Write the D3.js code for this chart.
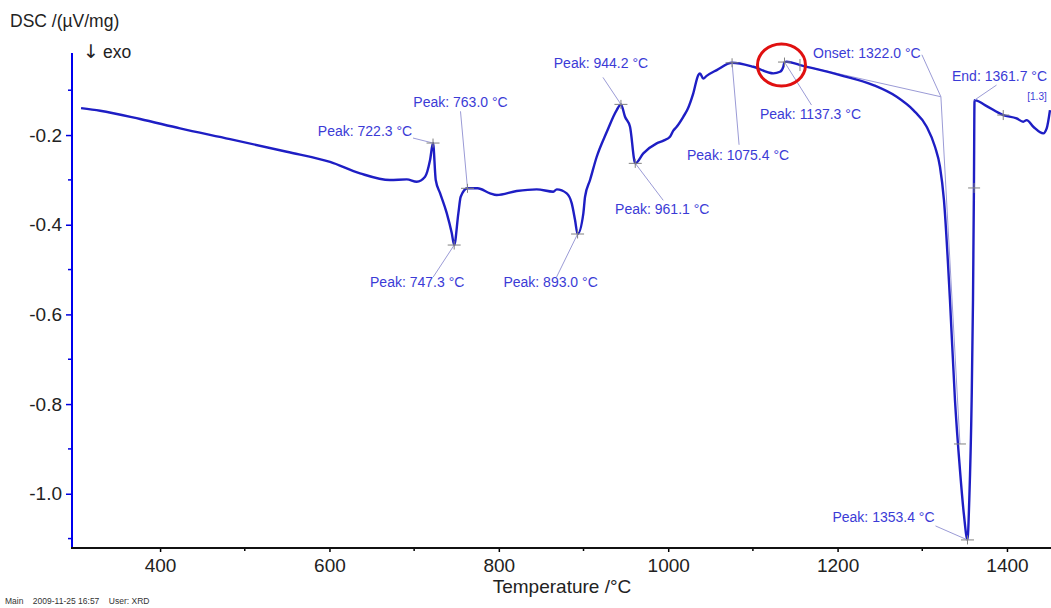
<!DOCTYPE html>
<html>
<head>
<meta charset="utf-8">
<script src="https://cdn.jsdelivr.net/npm/d3@7"></script>
<style>
  html, body { margin: 0; padding: 0; background: #ffffff; }
  svg { display: block; font-family: "Liberation Sans", Arial, sans-serif; }
</style>
</head>
<body>
<svg id="chart" width="1051" height="608"></svg>
<script>
// DSC heating curve: temperature (°C) and signal (µV/mg)
const temperature = [
  306.7, 329.2, 376.4, 423.6, 482.6, 549.6, 600.7, 636.1, 671.5, 691.3,
  703.1, 712.9, 718.8, 722.3, 725.5, 730.6, 738.5, 744.4, 747.3, 752.2,
  755.0, 763.0, 774.9, 789.6, 797.5, 821.1, 844.7, 864.3, 868.4, 880.2,
  886.1, 890.0, 893.0, 899.8, 901.8, 907.7, 915.6, 927.4, 939.2, 944.2,
  949.0, 954.9, 961.1, 970.6, 986.4, 995.0, 1002.1, 1006.0, 1010.0, 1017.8,
  1023.0, 1029.6, 1035.5, 1037.5, 1041.4, 1045.4, 1057.3, 1075.4, 1100.5, 1124.1,
  1132.0, 1135.9, 1137.3, 1139.9, 1155.6, 1202.8, 1242.2, 1269.8, 1289.4, 1305.2,
  1315.0, 1320.9, 1325.6, 1332.7, 1338.6, 1344.5, 1349.2, 1353.4, 1355.5, 1358.3,
  1359.9, 1361.0, 1361.7, 1374.0, 1395.6, 1411.4, 1419.2, 1423.2, 1431.1, 1442.9,
  1446.9, 1450.8
];
const dsc = [
  -0.140, -0.1458, -0.1643, -0.1851, -0.209, -0.2372, -0.260, -0.2854, -0.3003, -0.2988,
  -0.3041, -0.293, -0.2557, -0.2178, -0.3003, -0.3293, -0.374, -0.4185, -0.4453, -0.3746,
  -0.3376, -0.3188, -0.3188, -0.330, -0.3338, -0.3249, -0.3211, -0.3264, -0.3211, -0.330,
  -0.3523, -0.3895, -0.4207, -0.3746, -0.3376, -0.3003, -0.2484, -0.1933, -0.1443, -0.1316,
  -0.1592, -0.1815, -0.2631, -0.2408, -0.2185, -0.2120, -0.2038, -0.1900, -0.1815, -0.1592,
  -0.1420, -0.107, -0.0662, -0.0624, -0.0740, -0.068, -0.0551, -0.0388, -0.0477, -0.0624,
  -0.0589, -0.0477, -0.0372, -0.0366, -0.0439, -0.0662, -0.0885, -0.1146, -0.1443, -0.1815,
  -0.2261, -0.2707, -0.345, -0.5679, -0.7908, -0.9469, -1.0473, -1.103, -1.0138, -0.7909,
  -0.5679, -0.3182, -0.122, -0.1331, -0.1554, -0.1628, -0.1703, -0.1666, -0.1815, -0.1962,
  -0.1851, -0.1443
];

// Axis ticks
const xMajorTicks = [400, 600, 800, 1000, 1200, 1400];
const xMinorTicks = [500, 700, 900, 1100, 1300];
const yMajorTicks = [-1.0, -0.8, -0.6, -0.4, -0.2];
const yMinorTicks = [-1.1, -0.9, -0.7, -0.5, -0.3, -0.1];

// Evaluated peaks (temperature in °C)
const peakTemps = [722.3, 747.3, 763.0, 893.0, 944.2, 961.1, 1075.4, 1137.3, 1353.4];
// Label placement for each peak, in pixels relative to its marker:
// [text dx, text dy, leader start dx, leader start dy]
const peakLabelLayout = [
  [-68, -7, -20, -5],
  [-37, 42, -21, 32],
  [-7, -81, -7, -77],
  [-27, 53, -21, 43],
  [-20, -36, -18, -27],
  [27, 51, 28, 37],
  [6, 97, 7, 82],
  [26, 57, 27, 43],
  [-84, -18, -32, -14]
];

// Melting onset / end evaluation
const onsetPoint = [1322.0, -0.1146];
const onsetBaseStart = [1155.6, -0.0439];
const onsetTangentEnd = [1344.5, -0.889];
const endPoint = [1361.7, -0.122];
const endMarkers = [[1361.2, -0.318], [1395.6, -0.1554]];
const segmentTag = "[1.3]";

const svg = d3.select("#chart");
const W = 1051, H = 608;

const x = d3.scaleLinear().domain([296, 1452]).range([72, 1051]);
const y = d3.scaleLinear().domain([-1.121, -0.017]).range([548, 53]);

const labelColor = "#3b3bd6";
const leaderColor = "#9b9bd6";
const markerColor = "#808080";
const curveColor = "#1e1ec4";
const axisFont = "19px";

// Y axis (blue) with minor ticks
const yAxisG = svg.append("g").attr("transform", `translate(${x.range()[0]},0)`);
yAxisG.call(d3.axisLeft(y).tickValues(yMajorTicks).tickSize(6).tickPadding(4)
  .tickFormat(d => d.toFixed(1)));
yAxisG.call(g => g.select(".domain").remove());
yAxisG.selectAll(".tick line").attr("stroke", "#0000e0").attr("stroke-width", 1.5);
yAxisG.selectAll(".tick text").attr("fill", "#222").style("font-size", axisFont)
  .style("font-family", "'Liberation Sans', Arial, sans-serif");
yAxisG.selectAll(".minor").data(yMinorTicks).enter().append("line")
  .attr("x1", -4).attr("x2", 0).attr("y1", d => y(d)).attr("y2", d => y(d))
  .attr("stroke", "#0000e0").attr("stroke-width", 1.5);
yAxisG.append("line").attr("x1", 0).attr("x2", 0).attr("y1", 53).attr("y2", 548)
  .attr("stroke", "#0000ee").attr("stroke-width", 2);

// X axis (black) with minor ticks
const xAxisG = svg.append("g").attr("transform", `translate(0,${y.range()[0]})`);
xAxisG.call(d3.axisBottom(x).tickValues(xMajorTicks).tickSize(4).tickPadding(7)
  .tickFormat(d3.format("d")));
xAxisG.call(g => g.select(".domain").remove());
xAxisG.selectAll(".tick line").attr("stroke", "#000").attr("stroke-width", 1.5);
xAxisG.selectAll(".tick text").attr("fill", "#222").style("font-size", axisFont)
  .style("font-family", "'Liberation Sans', Arial, sans-serif");
xAxisG.selectAll(".minor").data(xMinorTicks).enter().append("line")
  .attr("x1", d => x(d)).attr("x2", d => x(d)).attr("y1", 0).attr("y2", 3)
  .attr("stroke", "#000").attr("stroke-width", 1.5);
xAxisG.append("line").attr("x1", 71).attr("x2", W).attr("y1", 0).attr("y2", 0)
  .attr("stroke", "#111").attr("stroke-width", 2);

// Axis titles and header
svg.append("text").attr("x", 10).attr("y", 27).attr("fill", "#222")
  .style("font-size", "17.5px").text("DSC /(µV/mg)");
svg.append("text").attr("x", 83).attr("y", 58).attr("fill", "#222")
  .style("font-size", "19px").style("font-family", "'DejaVu Sans', sans-serif").text("↓");
svg.append("text").attr("x", 103).attr("y", 58).attr("fill", "#222")
  .style("font-size", "17.5px").text("exo");
svg.append("text").attr("x", 562).attr("y", 593).attr("text-anchor", "middle")
  .attr("fill", "#222").style("font-size", axisFont).text("Temperature /°C");
svg.append("text").attr("x", 5).attr("y", 604).attr("fill", "#333")
  .style("font-size", "8.5px").attr("xml:space", "preserve")
  .text("Main    2009-11-25 16:57    User: XRD");

// Onset construction lines
const leaders = svg.append("g").attr("stroke", leaderColor).attr("stroke-width", 1).attr("fill", "none");
leaders.append("line")
  .attr("x1", x(onsetBaseStart[0])).attr("y1", y(onsetBaseStart[1]))
  .attr("x2", x(onsetPoint[0])).attr("y2", y(onsetPoint[1]));
leaders.append("line")
  .attr("x1", x(onsetPoint[0])).attr("y1", y(onsetPoint[1]))
  .attr("x2", x(onsetTangentEnd[0])).attr("y2", y(onsetTangentEnd[1]));

// DSC curve
const curveData = temperature.map((t, i) => [t, dsc[i]]);
const line = d3.line().x(d => x(d[0])).y(d => y(d[1])).curve(d3.curveMonotoneX);
svg.append("path").datum(curveData).attr("d", line)
  .attr("fill", "none").attr("stroke", curveColor).attr("stroke-width", 2.4)
  .attr("stroke-linejoin", "round");

// Cross marker
function cross(px, py, w, h) {
  const g = svg.append("g").attr("stroke", markerColor).attr("stroke-width", 1);
  if (w > 0) g.append("line").attr("x1", px - w / 2).attr("x2", px + w / 2).attr("y1", py).attr("y2", py);
  if (h > 0) g.append("line").attr("x1", px).attr("x2", px).attr("y1", py - h / 2).attr("y2", py + h / 2);
}

// Peak annotations
const valueAt = t => dsc[temperature.indexOf(t)];
peakTemps.forEach((t, i) => {
  const mx = x(t), my = y(valueAt(t));
  const [tdx, tdy, ldx, ldy] = peakLabelLayout[i];
  svg.append("line").attr("x1", mx + ldx).attr("y1", my + ldy).attr("x2", mx).attr("y2", my)
    .attr("stroke", leaderColor).attr("stroke-width", 1);
  cross(mx, my, 13, 9);
  svg.append("text").attr("x", mx + tdx).attr("y", my + tdy).attr("text-anchor", "middle")
    .attr("fill", labelColor).style("font-size", "14px")
    .text(`Peak: ${t.toFixed(1)} °C`);
});

// Onset label
{
  const ox = x(onsetPoint[0]), oy = y(onsetPoint[1]);
  svg.append("line").attr("x1", ox - 19).attr("y1", oy - 42).attr("x2", ox).attr("y2", oy)
    .attr("stroke", leaderColor).attr("stroke-width", 1);
  svg.append("text").attr("x", ox - 74).attr("y", oy - 39).attr("text-anchor", "middle")
    .attr("fill", labelColor).style("font-size", "14px")
    .text(`Onset: ${onsetPoint[0].toFixed(1)} °C`);
  cross(x(onsetBaseStart[0]), y(onsetBaseStart[1]), 0, 12);
  cross(x(onsetTangentEnd[0]), y(onsetTangentEnd[1]), 12, 0);
}

// End label
{
  const ex = x(endPoint[0]), ey = y(endPoint[1]);
  svg.append("line").attr("x1", ex + 22).attr("y1", ey - 15).attr("x2", ex).attr("y2", ey)
    .attr("stroke", leaderColor).attr("stroke-width", 1);
  svg.append("text").attr("x", ex + 25).attr("y", ey - 19).attr("text-anchor", "middle")
    .attr("fill", labelColor).style("font-size", "14px")
    .text(`End: ${endPoint[0].toFixed(1)} °C`);
  endMarkers.forEach(p => cross(x(p[0]), y(p[1]), 12, 10));
  svg.append("text").attr("x", 1037).attr("y", 100).attr("text-anchor", "middle")
    .attr("fill", labelColor).style("font-size", "10px").text(segmentTag);
}

// Highlight ring round the 1137.3 °C peak
svg.append("ellipse").attr("cx", x(1137.3) - 3).attr("cy", y(valueAt(1137.3)) + 3)
  .attr("rx", 24).attr("ry", 21).attr("fill", "none")
  .attr("stroke", "#e01010").attr("stroke-width", 3);
</script>
</body>
</html>
